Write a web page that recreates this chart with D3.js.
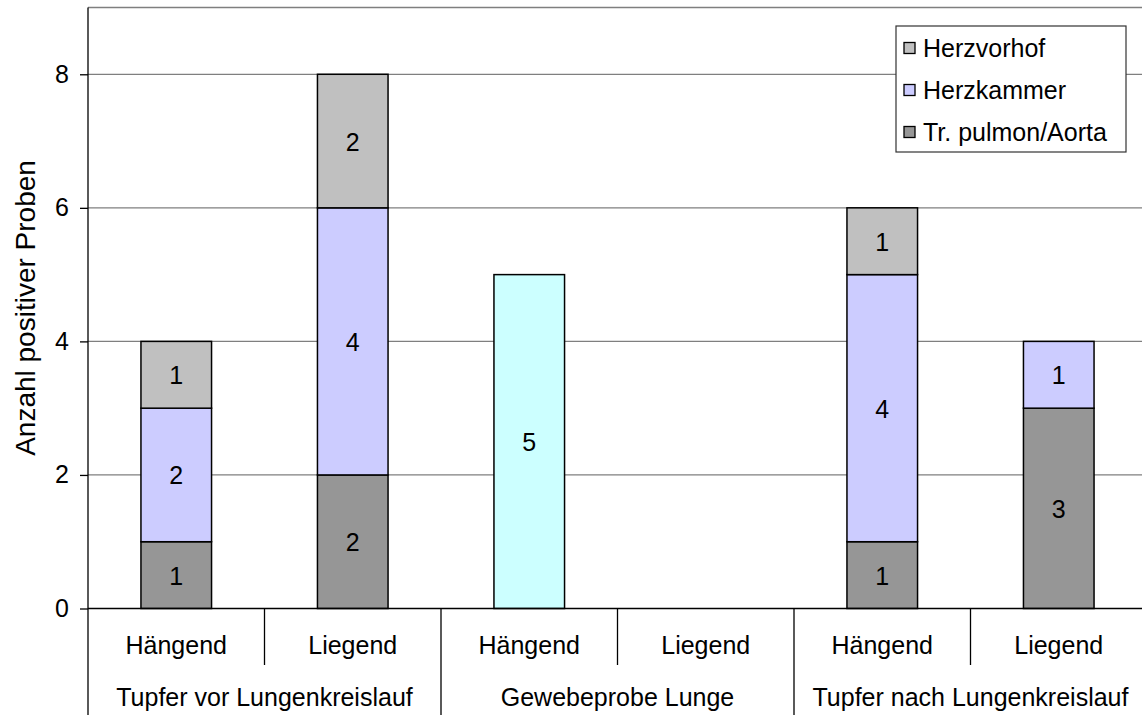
<!DOCTYPE html>
<html>
<head>
<meta charset="utf-8">
<script src="https://cdn.jsdelivr.net/npm/d3@7"></script>
<style>
  html, body { margin: 0; padding: 0; background: #fff; }
  svg { display: block; font-family: "Liberation Sans", Arial, sans-serif; }
</style>
</head>
<body>
<svg id="chart" width="1142" height="715"></svg>
<script>
// Sample positions (inner axis level) and sample groups (outer level)
const positions = ["Hängend", "Liegend", "Hängend", "Liegend", "Hängend", "Liegend"];
const groups = ["Tupfer vor Lungenkreislauf", "Gewebeprobe Lunge", "Tupfer nach Lungenkreislauf"];

// Positive samples per location, stacked bottom to top
const aorta  = [1, 2, 0, 0, 1, 3];   // Tr. pulmon/Aorta
const kammer = [2, 4, 0, 0, 4, 1];   // Herzkammer
const vorhof = [1, 2, 0, 0, 1, 0];   // Herzvorhof
const lunge  = [0, 0, 5, 0, 0, 0];   // Lungengewebe

const yTicks = [0, 2, 4, 6, 8];
const yTitle = "Anzahl positiver Proben";

const seriesKeys = ["aorta", "kammer", "vorhof", "lunge"];
const seriesNames = { aorta: "Tr. pulmon/Aorta", kammer: "Herzkammer", vorhof: "Herzvorhof", lunge: "Lunge" };
const seriesColors = { aorta: "#969696", kammer: "#CCCCFF", vorhof: "#C0C0C0", lunge: "#CCFFFF" };
const legendKeys = ["vorhof", "kammer", "aorta"];

const rows = positions.map((p, i) => ({
  idx: i, aorta: aorta[i], kammer: kammer[i], vorhof: vorhof[i], lunge: lunge[i]
}));

const svg = d3.select("#chart");
const plot = { left: 88, top: 7.5, bottom: 608.5 };
const slotW = 176.5;
const fontSize = 25;

const x = d3.scaleBand()
  .domain(rows.map(d => d.idx))
  .range([plot.left, plot.left + slotW * positions.length])
  .paddingInner(0).paddingOuter(0);

const y = d3.scaleLinear().domain([0, 9]).range([plot.bottom, plot.top]);

// Gridlines
svg.append("g")
  .selectAll("line")
  .data(yTicks.filter(t => t > 0))
  .join("line")
  .attr("x1", plot.left).attr("x2", x.range()[1])
  .attr("y1", d => y(d)).attr("y2", d => y(d))
  .attr("stroke", "#7f7f7f").attr("stroke-width", 1.3);

// Plot area top border
svg.append("line")
  .attr("x1", plot.left).attr("x2", x.range()[1])
  .attr("y1", y(9)).attr("y2", y(9))
  .attr("stroke", "#7f7f7f").attr("stroke-width", 1.3);

// Stacked bars
const stacked = d3.stack().keys(seriesKeys)(rows);
const barW = x.bandwidth() * 0.4;

const segs = [];
stacked.forEach(layer => {
  layer.forEach(d => {
    const v = d[1] - d[0];
    if (v > 0) segs.push({ key: layer.key, idx: d.data.idx, y0: d[0], y1: d[1], v });
  });
});

const barG = svg.append("g");
barG.selectAll("rect")
  .data(segs)
  .join("rect")
  .attr("x", d => x(d.idx) + (x.bandwidth() - barW) / 2)
  .attr("width", barW)
  .attr("y", d => y(d.y1))
  .attr("height", d => y(d.y0) - y(d.y1))
  .attr("fill", d => seriesColors[d.key])
  .attr("stroke", "#000")
  .attr("stroke-width", 1.5);

barG.selectAll("text")
  .data(segs)
  .join("text")
  .attr("x", d => x(d.idx) + x.bandwidth() / 2)
  .attr("y", d => (y(d.y0) + y(d.y1)) / 2)
  .attr("dy", "0.38em")
  .attr("text-anchor", "middle")
  .attr("font-size", fontSize)
  .attr("fill", "#000")
  .text(d => d.v);

// Y axis
const yAxis = d3.axisLeft(y)
  .tickValues(yTicks)
  .tickSize(8)
  .tickPadding(11)
  .tickFormat(d3.format("d"));

const yAxisG = svg.append("g")
  .attr("transform", `translate(${plot.left},0)`)
  .call(yAxis);
yAxisG.select(".domain").remove();
yAxisG.selectAll(".tick line").attr("stroke", "#000").attr("stroke-width", 1.3);
yAxisG.selectAll(".tick text")
  .attr("font-size", fontSize)
  .attr("font-family", "Liberation Sans, Arial, sans-serif")
  .attr("fill", "#000");

// Left axis line, extended through the category label area
svg.append("line")
  .attr("x1", plot.left).attr("x2", plot.left)
  .attr("y1", y(9)).attr("y2", 715)
  .attr("stroke", "#000").attr("stroke-width", 1.3);

// X axis baseline
svg.append("line")
  .attr("x1", plot.left).attr("x2", x.range()[1])
  .attr("y1", y(0)).attr("y2", y(0))
  .attr("stroke", "#000").attr("stroke-width", 1.3);

// Category separators: short within a group, long between groups
const sepG = svg.append("g");
d3.range(1, positions.length + 1).forEach(i => {
  const sx = x.range()[0] + i * x.step();
  const between = i % 2 === 0;
  sepG.append("line")
    .attr("x1", sx).attr("x2", sx)
    .attr("y1", y(0)).attr("y2", between ? 715 : 665)
    .attr("stroke", "#000").attr("stroke-width", 1.3);
});

// Inner category labels
svg.append("g")
  .selectAll("text")
  .data(rows)
  .join("text")
  .attr("x", d => x(d.idx) + x.bandwidth() / 2)
  .attr("y", 654)
  .attr("text-anchor", "middle")
  .attr("font-size", fontSize)
  .attr("fill", "#000")
  .text(d => positions[d.idx]);

// Outer group labels
svg.append("g")
  .selectAll("text")
  .data(groups)
  .join("text")
  .attr("x", (d, i) => x(i * 2) + x.step())
  .attr("y", 706)
  .attr("text-anchor", "middle")
  .attr("font-size", fontSize)
  .attr("fill", "#000")
  .text(d => d);

// Y axis title
svg.append("text")
  .attr("transform", `translate(35,${(y(0) + y(9)) / 2}) rotate(-90)`)
  .attr("text-anchor", "middle")
  .attr("font-size", 28)
  .attr("fill", "#000")
  .text(yTitle);

// Legend
const lg = svg.append("g").attr("transform", "translate(896,26)");
lg.append("rect")
  .attr("width", 230).attr("height", 126)
  .attr("fill", "#fff")
  .attr("stroke", "#333").attr("stroke-width", 1.2);

const items = lg.selectAll("g.item")
  .data(legendKeys)
  .join("g")
  .attr("class", "item")
  .attr("transform", (d, i) => `translate(0,${22 + i * 42})`);

items.append("rect")
  .attr("x", 8).attr("y", -5.5)
  .attr("width", 11).attr("height", 11)
  .attr("fill", d => seriesColors[d])
  .attr("stroke", "#000").attr("stroke-width", 1.3);

items.append("text")
  .attr("x", 27)
  .attr("y", 0)
  .attr("dy", "0.35em")
  .attr("font-size", fontSize)
  .attr("fill", "#000")
  .text(d => seriesNames[d]);
</script>
</body>
</html>
